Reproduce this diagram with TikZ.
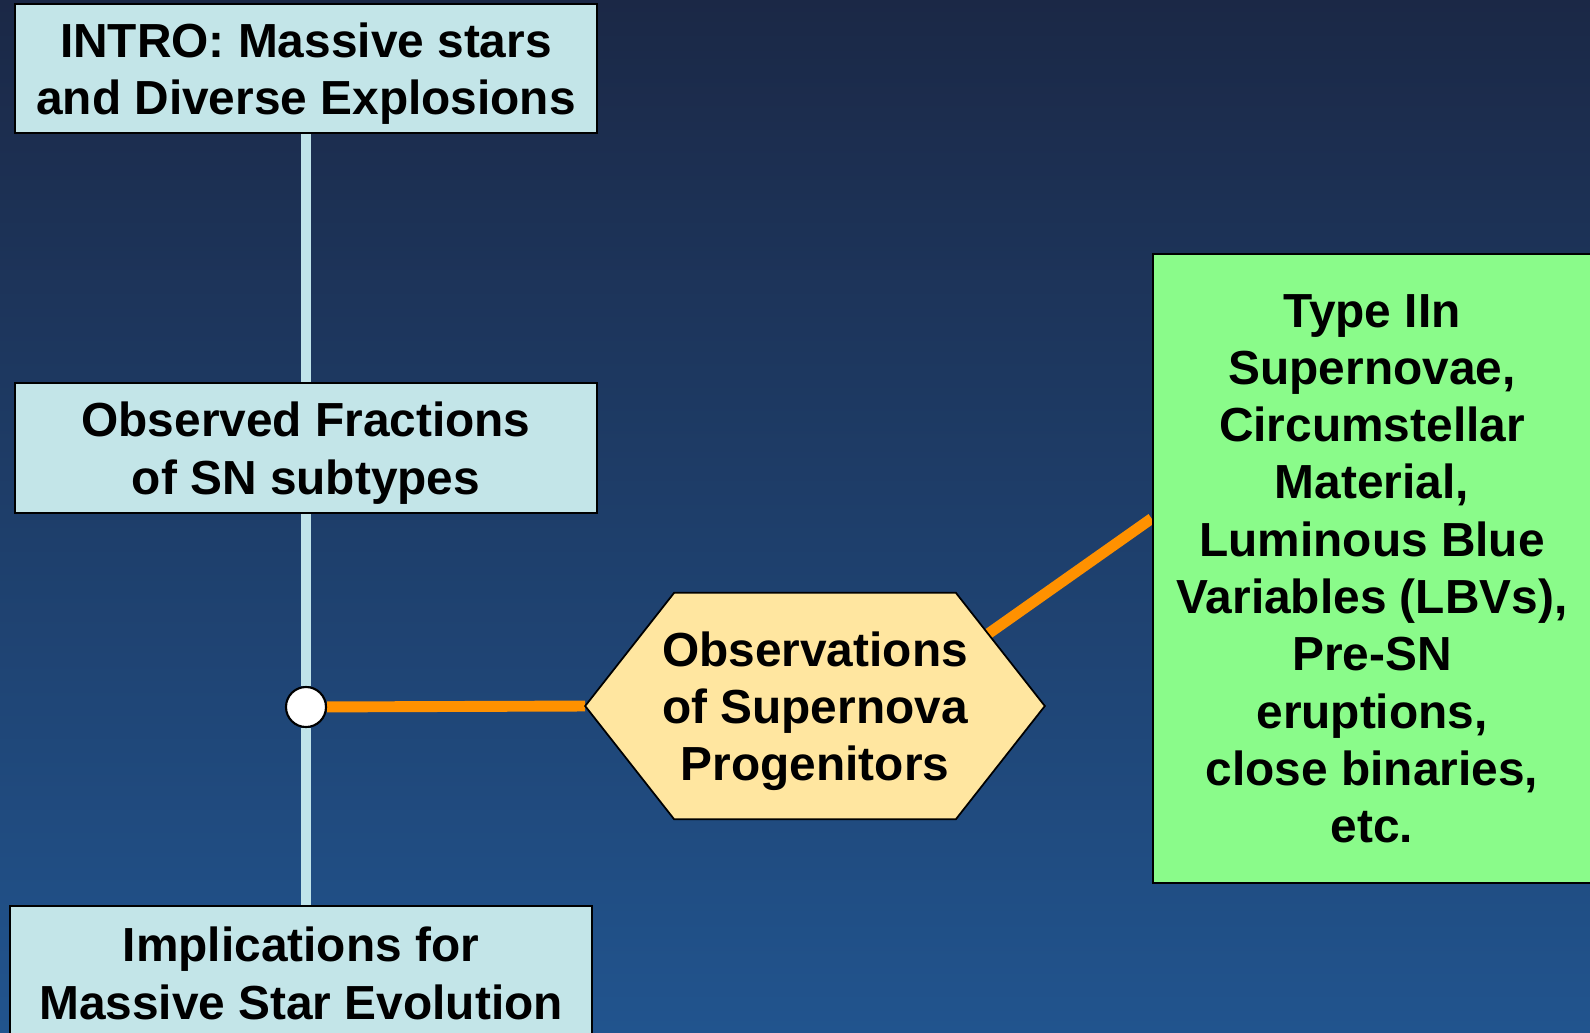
\documentclass[tikz,border=0pt]{standalone}
\usepackage{fontspec}
\setmainfont{Liberation Sans}
\usetikzlibrary{calc,positioning}
\definecolor{skytop}{RGB}{27,40,70}
\definecolor{skybottom}{RGB}{33,84,142}
\definecolor{boxblue}{RGB}{195,229,232}
\definecolor{boxgreen}{RGB}{138,251,138}
\definecolor{hexyellow}{RGB}{255,230,160}
\definecolor{linkorange}{RGB}{255,145,0}
\definecolor{spineblue}{RGB}{192,228,234}
\pgfdeclarelayer{back}
\pgfdeclarelayer{wires}
\pgfsetlayers{back,wires,main}
\tikzstyle{every node}=[font=\bfseries\fontsize{13.6}{16.3}\selectfont,align=center,inner sep=0pt,text depth=-1pt]
\tikzstyle{bluebox}=[draw,line width=0.7pt,fill=boxblue,minimum width=5.82cm]
\tikzstyle{greenbox}=[draw,line width=0.7pt,fill=boxgreen,minimum width=4.38cm,minimum height=6.29cm]
\tikzstyle{hexnode}=[minimum width=4.58cm,minimum height=2.25cm]
\tikzstyle{hexbody}=[draw,line width=0.5pt,fill=hexyellow,line join=miter]
\tikzstyle{junction}=[circle,draw,line width=0.6pt,fill=white,minimum size=0.4cm]
\tikzstyle{spine}=[draw=spineblue,line width=2.85pt]
\tikzstyle{link}=[draw=linkorange,line width=3.1pt]

\begin{document}
\begin{tikzpicture}[x=0.01cm,y=-0.01cm]
  \useasboundingbox (0,0) rectangle (1590,1032);
  \begin{pgfonlayer}{back}
    \fill[top color=skytop,bottom color=skybottom] (0,0) rectangle (1590,1032);
  \end{pgfonlayer}

  \node[bluebox,minimum height=1.29cm] (intro) at (306,68.5) {INTRO: Massive stars\\and Diverse Explosions};
  \node[bluebox,minimum height=1.30cm] (fractions) at (306,448) {Observed Fractions\\of SN subtypes};
  \node[bluebox,minimum height=1.34cm] (implic) at (301,973) {Implications for\\Massive Star Evolution};
  \node[junction] (jn) at (306,707) {};
  \node[hexnode] (obs) at (815,706) {Observations\\of Supernova\\Progenitors};
  \node[greenbox] (types) at (1372,568.5) {Type IIn\\Supernovae,\\Circumstellar\\Material,\\Luminous Blue\\Variables (LBVs),\\Pre-SN\\eruptions,\\close binaries,\\etc.};

  \begin{pgfonlayer}{wires}
    \path[spine] (intro) edge (fractions)
      (fractions) edge (jn)
      (jn) edge (implic.north -| jn);
    \path[link] (jn) edge (obs.west)
      ($(obs.center)+(85,-10)$) edge ($(types.west)+(0,-50)$);
    % hexagon drawn over the link ends
    \path[hexbody] (obs.west) -- ($(obs.north west)+(89,0)$) -- ($(obs.north east)+(-89,0)$)
      -- (obs.east) -- ($(obs.south east)+(-89,0)$) -- ($(obs.south west)+(89,0)$) -- cycle;
  \end{pgfonlayer}
\end{tikzpicture}
\end{document}
